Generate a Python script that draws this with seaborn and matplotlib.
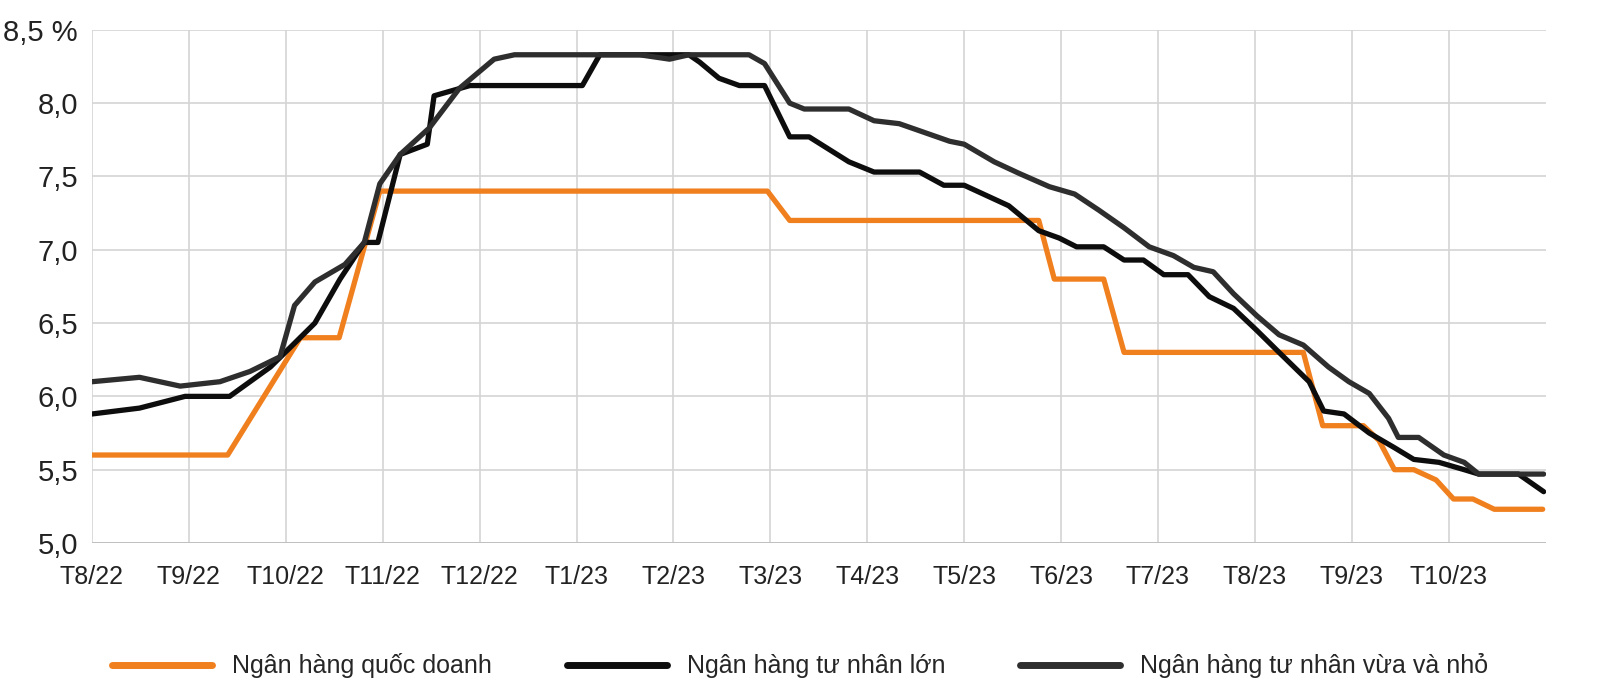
import pandas as pd
import matplotlib.pyplot as plt
import seaborn as sns
from matplotlib.lines import Line2D

# month index: 0 = T8/22
months = ["T8/22", "T9/22", "T10/22", "T11/22", "T12/22", "T1/23", "T2/23", "T3/23",
          "T4/23", "T5/23", "T6/23", "T7/23", "T8/23", "T9/23", "T10/23"]

state_x = [0, 1.4, 2.15, 2.55, 2.97, 6.97, 7.2, 9.77, 9.93, 10.44, 10.65, 12.5, 12.7,
           13.12, 13.28, 13.44, 13.64, 13.87, 14.05, 14.25, 14.47, 14.97]
state_y = [5.6, 5.6, 6.4, 6.4, 7.4, 7.4, 7.2, 7.2, 6.8, 6.8, 6.3, 6.3, 5.8,
           5.8, 5.7, 5.5, 5.5, 5.43, 5.3, 5.3, 5.23, 5.23]

large_x = [0, 0.49, 0.96, 1.42, 1.84, 2.04, 2.3, 2.56, 2.81, 2.95,
           3.18, 3.46, 3.53, 3.9, 5.06, 5.24, 6.16, 6.27, 6.47, 6.68,
           6.94, 7.2, 7.4, 7.81, 8.07, 8.54, 8.79, 9.0, 9.46, 9.77,
           9.98, 10.16, 10.44, 10.65, 10.85, 11.06, 11.31, 11.53, 11.78, 12.02,
           12.25, 12.56, 12.71, 12.92, 13.18, 13.44, 13.64, 13.9, 14.16, 14.31,
           14.72, 14.98]
large_y = [5.88, 5.92, 6.0, 6.0, 6.2, 6.33, 6.5, 6.8, 7.05, 7.05,
           7.65, 7.72, 8.05, 8.12, 8.12, 8.33, 8.33, 8.28, 8.17, 8.12,
           8.12, 7.77, 7.77, 7.6, 7.53, 7.53, 7.44, 7.44, 7.3, 7.13,
           7.08, 7.02, 7.02, 6.93, 6.93, 6.83, 6.83, 6.68, 6.6, 6.45,
           6.3, 6.1, 5.9, 5.88, 5.75, 5.65, 5.57, 5.55, 5.5, 5.47,
           5.47, 5.35]

small_x = [0, 0.49, 0.91, 1.32, 1.63, 1.94, 2.09, 2.3, 2.61, 2.81,
           2.97, 3.18, 3.48, 3.79, 4.15, 4.36, 5.65, 5.96, 6.16, 6.78,
           6.94, 7.2, 7.35, 7.81, 8.07, 8.33, 8.59, 8.85, 9.0, 9.31,
           9.57, 9.88, 10.14, 10.39, 10.65, 10.91, 11.16, 11.37, 11.57, 11.78,
           12.02, 12.25, 12.5, 12.76, 12.97, 13.18, 13.38, 13.48, 13.69, 13.95,
           14.16, 14.31, 14.98]
small_y = [6.1, 6.13, 6.07, 6.1, 6.17, 6.27, 6.62, 6.78, 6.9, 7.05,
           7.45, 7.65, 7.83, 8.1, 8.3, 8.33, 8.33, 8.3, 8.33, 8.33,
           8.27, 8.0, 7.96, 7.96, 7.88, 7.86, 7.8, 7.74, 7.72, 7.6,
           7.52, 7.43, 7.38, 7.27, 7.15, 7.02, 6.96, 6.88, 6.85, 6.7,
           6.55, 6.42, 6.35, 6.2, 6.1, 6.02, 5.85, 5.72, 5.72, 5.6,
           5.55, 5.47, 5.47]

names = ["Ngân hàng quốc doanh", "Ngân hàng tư nhân lớn", "Ngân hàng tư nhân vừa và nhỏ"]
colors = ["#f07f1e", "#0d0d0d", "#2e2e2e"]
df = pd.concat([
    pd.DataFrame({"x": state_x, "y": state_y, "group": names[0]}),
    pd.DataFrame({"x": large_x, "y": large_y, "group": names[1]}),
    pd.DataFrame({"x": small_x, "y": small_y, "group": names[2]}),
])

sns.set_style("white")
plt.rcParams['font.family'] = ['Liberation Sans', 'DejaVu Sans']

fig = plt.figure(figsize=(16, 6.94), dpi=100)
ax = fig.add_axes([0.0575, 0.2176, 0.9085, 0.7394])
sns.lineplot(data=df, x="x", y="y", hue="group", sort=False, estimator=None,
             palette=colors, linewidth=3.8, ax=ax, legend=False)

ax.set_xlim(0, 15)
ax.set_ylim(5.0, 8.5)
ax.set_xticks(range(15))
ax.set_xticklabels(months, fontsize=18, color="#222222")
yt = [5.0, 5.5, 6.0, 6.5, 7.0, 7.5, 8.0, 8.5]
ax.set_yticks(yt)
ax.set_yticklabels([f"{v:.1f}".replace(".", ",") + (" %" if v == 8.5 else "") for v in yt],
                   fontsize=21, color="#222222")
ax.grid(True, color="#d4d4d4", linewidth=1.2)
for s in ax.spines.values():
    s.set_visible(False)
ax.axhline(5.0, color="#bbbbbb", linewidth=1.2)
ax.tick_params(axis="y", length=0, pad=10)
ax.tick_params(axis="x", length=0, pad=16)
ax.set_xlabel("")
ax.set_ylabel("")

handles = [Line2D([], [], color=c, lw=5) for c in colors]
fig.legend(handles, names, loc="lower center", bbox_to_anchor=(0.5, -0.01), ncol=3,
           frameon=False, fontsize=18, handlelength=4, columnspacing=3)

fig.savefig("out.png", dpi=100)
